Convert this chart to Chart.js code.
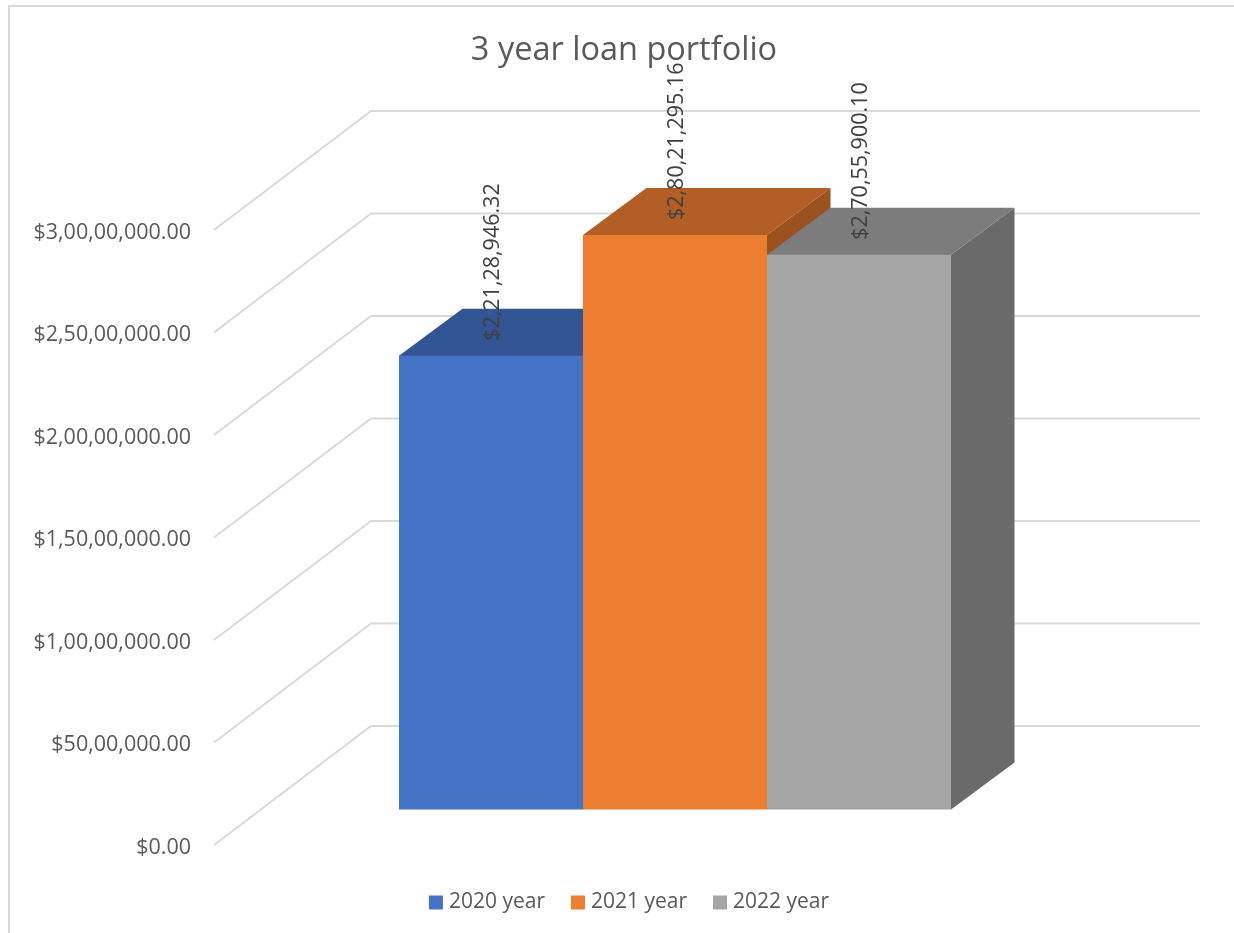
<!DOCTYPE html>
<html lang="en">
<head>
	<title>3 year loan portfolio</title>
	<style>
		body { margin: 0; background: #fff; overflow: hidden; }
		canvas { display: block; }
	</style>
</head>
<body>
	<canvas id="c1" width="1234" height="933"></canvas>
	<script src="https://cdn.jsdelivr.net/npm/chart.js@4/dist/chart.umd.js"></script>
	<script>
		var categories = ['Loan portfolio'];
		var seriesNames = ['2020 year', '2021 year', '2022 year'];
		var seriesValues = [22128946.32, 28021295.16, 27055900.10];
		var axisMax = 30000000;
		var axisStep = 5000000;

		var frontColors = ['#4472C4', '#ED7D31', '#A5A5A5'];
		var topColors = ['#335593', '#B25E25', '#7C7C7C'];
		var sideColors = ['#2B4A80', '#9A5220', '#6A6A6A'];

		var FONT = '"Open Sans", "Noto Sans", sans-serif';
		var TEXT = '#595959';
		var GRID = '#D9D9D9';

		// bars stand this far (in axis units) above the front edge of the floor
		var floorLift = 35.5 / 615 * axisMax;
		// projection of the box depth
		var barDepth = {x: 63.5, y: -47};
		var wallDepth = {x: 157, y: -119};

		function money(v)
		{
			return '$' + v.toLocaleString('en-IN', {minimumFractionDigits: 2, maximumFractionDigits: 2});
		}

		function poly(ctx, color, pts)
		{
			ctx.fillStyle = color;
			ctx.beginPath();
			ctx.moveTo(pts[0][0], pts[0][1]);
			for (var i = 1; i < pts.length; i++) {
				ctx.lineTo(pts[i][0], pts[i][1]);
			}
			ctx.closePath();
			ctx.fill();
		}

		var box3d = {
			id: 'box3d',
			afterLayout: function(chart) {
				// centre the title and legend on the plot rather than the page
				chart.titleBlock.left += 7;
				chart.titleBlock.right += 7;
				chart.legend.left += 14.25;
				chart.legend.right += 14.25;
				// tick text sits a little low against its position on the axis
				chart.scales.yLabels.getLabelItems().forEach(function(item) {
					item.options.translation[1] += 2.5;
				});
			},
			beforeDraw: function(chart) {
				var ctx = chart.ctx;
				ctx.save();
				ctx.fillStyle = '#fff';
				ctx.fillRect(0, 0, chart.width, chart.height);
				ctx.strokeStyle = GRID;
				ctx.lineWidth = 2;
				ctx.beginPath();
				ctx.moveTo(9, chart.height);
				ctx.lineTo(9, 6);
				ctx.lineTo(chart.width, 6);
				ctx.stroke();
				ctx.restore();
			},
			beforeDatasetsDraw: function(chart) {
				var ctx = chart.ctx;
				var area = chart.chartArea;
				var axis = chart.scales.yLabels;
				ctx.save();

				// left wall diagonals and back wall lines
				ctx.strokeStyle = GRID;
				ctx.lineWidth = 2;
				axis.ticks.forEach(function(tick) {
					var y = axis.getPixelForValue(tick.value);
					ctx.beginPath();
					ctx.moveTo(area.left, y);
					ctx.lineTo(area.left + wallDepth.x, y + wallDepth.y);
					ctx.lineTo(area.right + 64, y + wallDepth.y);
					ctx.stroke();
				});

				// top and side faces, the fronts are the bars themselves
				chart.data.datasets.forEach(function(ds, i) {
					var bar = chart.getDatasetMeta(i).data[0];
					var l = bar.x - bar.width / 2;
					var r = bar.x + bar.width / 2;
					var t = bar.y;
					var b = bar.base;
					poly(ctx, sideColors[i], [
						[r, t], [r + barDepth.x, t + barDepth.y],
						[r + barDepth.x, b + barDepth.y], [r, b]
					]);
					// runs 1px under the front so no seam shows through
					poly(ctx, topColors[i], [
						[l, t + 1], [l, t], [l + barDepth.x, t + barDepth.y],
						[r + barDepth.x, t + barDepth.y], [r, t], [r, t + 1]
					]);
				});
				ctx.restore();
			},
			afterDatasetsDraw: function(chart) {
				var ctx = chart.ctx;
				ctx.save();
				ctx.fillStyle = '#404040';
				ctx.font = '21.5px ' + FONT;
				ctx.textAlign = 'left';
				ctx.textBaseline = 'middle';
				chart.data.datasets.forEach(function(ds, i) {
					var bar = chart.getDatasetMeta(i).data[0];
					ctx.save();
					ctx.translate(bar.x + 1.5, bar.y - 15);
					ctx.rotate(-Math.PI / 2);
					ctx.fillText(money(ds.data[0]), 0, 0);
					ctx.restore();
				});
				ctx.restore();
			}
		};

		var datasets = seriesNames.map(function(name, i) {
			return {
				label: name,
				data: [seriesValues[i]],
				backgroundColor: frontColors[i],
				borderWidth: 0,
				yAxisID: 'y',
				categoryPercentage: 552 / 922,
				barPercentage: 1
			};
		});

		var chart = new Chart(document.getElementById('c1'), {
			type: 'bar',
			plugins: [box3d],
			data: {labels: categories, datasets: datasets},
			options: {
				responsive: false,
				animation: false,
				layout: {padding: {bottom: 10}},
				plugins: {
					tooltip: {enabled: false},
					title: {
						display: true,
						text: '3 year loan portfolio',
						color: TEXT,
						font: {family: FONT, size: 32.5, weight: 'normal', lineHeight: 1.2},
						padding: {top: 31.5, bottom: 159.5}
					},
					legend: {
						position: 'bottom',
						labels: {
							color: TEXT,
							font: {family: FONT, size: 21},
							padding: 30.5,
							boxWidth: 5,
							boxHeight: 5,
							// a thick stroke gives a 14px swatch while keeping the text close to it
							generateLabels: function(chart) {
								return chart.data.datasets.map(function(ds, i) {
									return {
										text: ds.label,
										fontColor: TEXT,
										fillStyle: frontColors[i],
										strokeStyle: frontColors[i],
										lineWidth: 9,
										datasetIndex: i
									};
								});
							}
						}
					}
				},
				scales: {
					x: {
						ticks: {display: false},
						grid: {display: false},
						border: {display: false},
						afterFit: function(s) { s.height = 16.5; }
					},
					yLabels: {
						position: 'left',
						display: true,
						min: 0,
						max: axisMax,
						ticks: {
							stepSize: axisStep,
							autoSkip: false,
							padding: 23,
							color: TEXT,
							font: {family: FONT, size: 21.5},
							callback: function(v) { return money(v); }
						},
						grid: {display: false, drawTicks: false},
						border: {display: false},
						afterFit: function(s) { s.width = 214; }
					},
					y: {
						position: 'right',
						min: -floorLift,
						max: axisMax - floorLift,
						ticks: {display: false},
						grid: {display: false, drawTicks: false},
						border: {display: false},
						afterFit: function(s) { s.width = 98; }
					}
				}
			}
		});
	</script>
</body>
</html>
